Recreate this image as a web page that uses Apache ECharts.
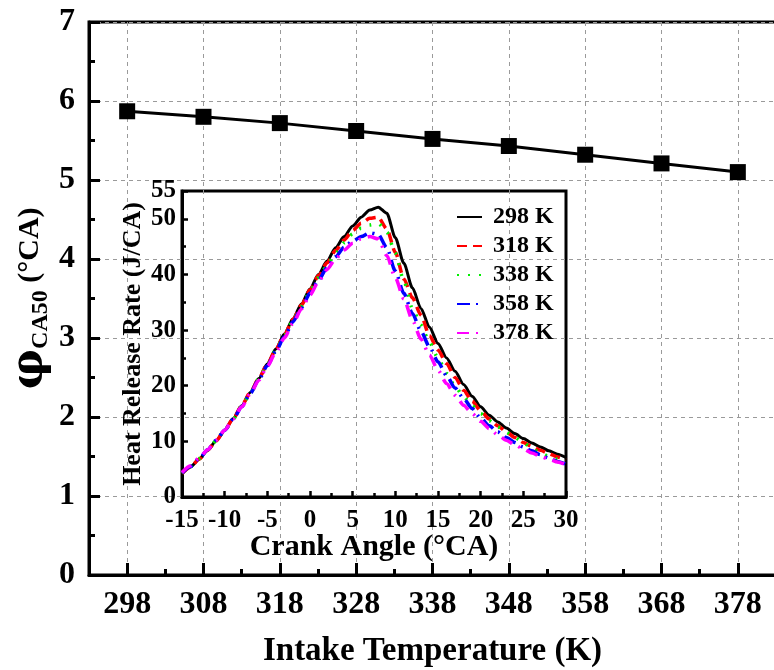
<!DOCTYPE html>
<html><head><meta charset="utf-8">
<script src="https://cdn.jsdelivr.net/npm/echarts@6/dist/echarts.min.js"></script>
<style>html,body{margin:0;padding:0;background:#fff}#c{width:774px;height:670px}</style>
</head><body><div id="c"></div>
<script>
// ---- main chart data ----
const temps = [298, 308, 318, 328, 338, 348, 358, 368, 378];
const ca50 = [5.87, 5.80, 5.72, 5.62, 5.52, 5.43, 5.32, 5.21, 5.10];
const minorTickTemps = [303, 313, 323, 333, 343, 353, 363, 373];

// ---- inset data ----
const angles = [-15,-14,-13,-12,-11,-10,-9,-8,-7,-6,-5,-4,-3,-2,-1,
  0,1,2,3,4,5,6,7,8,9,10,11,12,13,14,15,16,17,18,19,20,21,22,23,24,25,26,27,28,29,30];
const seriesNames = ['298 K', '318 K', '338 K', '358 K', '378 K'];
const hrr298 = [4.2,5.4,6.8,8.4,10.1,12.0,14.1,16.4,18.8,21.3,23.9,26.6,29.3,32.0,34.7,
  37.4,40.0,42.4,44.8,46.8,48.7,50.3,51.6,52.1,51.0,46.6,42.0,37.6,33.9,30.5,27.6,25.0,22.6,20.2,18.1,16.2,14.7,13.5,12.4,11.4,10.5,9.7,9.0,8.3,7.7,7.1];
const hrr318 = [4.2,5.4,6.8,8.4,10.1,12.0,14.1,16.4,18.8,21.3,23.9,26.5,29.2,31.9,34.5,
  37.2,39.8,42.1,44.3,46.2,47.9,49.2,50.1,50.3,48.2,44.0,39.2,35.8,32.7,29.0,26.4,24.0,21.5,19.2,17.2,15.5,14.0,12.8,11.7,10.7,9.8,9.1,8.4,7.8,7.2,6.7];
const hrr338 = [4.3,5.5,6.9,8.4,10.1,12.0,14.0,16.3,18.7,21.2,23.8,26.4,29.0,31.7,34.3,
  37.0,39.4,41.6,43.8,45.7,47.3,48.3,48.9,49.2,47.6,43.8,38.8,33.9,30.9,27.8,25.0,22.2,19.9,18.0,16.4,15.0,13.7,12.6,11.6,10.7,9.8,8.7,7.9,7.3,6.8,6.3];
const hrr358 = [4.3,5.5,6.9,8.5,10.2,12.0,14.0,16.2,18.6,21.1,23.6,26.2,28.8,31.5,34.0,
  36.6,39.0,41.2,43.2,44.9,46.0,46.8,47.5,47.2,44.8,40.6,36.6,33.0,29.8,27.0,24.3,21.8,19.6,17.7,15.9,14.2,12.8,11.7,10.7,9.8,9.0,8.3,7.6,7.0,6.4,5.9];
const hrr378 = [4.4,5.6,7.0,8.5,10.2,12.0,14.0,16.2,18.5,21.0,23.5,26.0,28.6,31.2,33.8,
  36.3,38.7,40.9,42.8,44.4,45.6,46.4,46.8,46.4,43.4,39.4,35.6,31.8,28.4,25.5,22.8,20.4,18.3,16.5,15.0,13.6,12.3,11.2,10.2,9.4,8.6,7.9,7.3,6.8,6.3,5.8];
const hrrAll = [hrr298, hrr318, hrr338, hrr358, hrr378];

const FF = "'Liberation Serif', 'Times New Roman', serif";
const styles = [
  {color: '#000000', type: 'solid', width: 3},
  {color: '#ff0000', type: [10, 6], width: 3.5},
  {color: '#00ee00', type: [2, 9], width: 3.5},
  {color: '#0000ff', type: [13, 6, 2, 6], width: 3.5},
  {color: '#ff00ff', type: [12, 7, 2, 7], width: 3.5}
];
const bold = (size) => ({fontFamily: FF, fontWeight: 'bold', fontSize: size, color: '#000'});

const chart = echarts.init(document.getElementById('c'), null, {renderer: 'canvas'});
const insetSeries = seriesNames.map((n, k) => ({
  name: n, type: 'line', xAxisIndex: 2, yAxisIndex: 1,
  data: angles.map((a, i) => [a, hrrAll[k][i]]),
  symbol: 'none', smooth: 0.25, smoothMonotone: 'x',
  lineStyle: styles[k], itemStyle: {color: styles[k].color},
  z: 3 + k
}));

chart.setOption({
  animation: false,
  backgroundColor: '#fff',
  grid: [
    {left: 89, top: 22, right: -2, bottom: 95, show: true, borderColor: '#000', borderWidth: 3,
     backgroundColor: 'transparent', outerBoundsMode: 'none', containLabel: false},
    {left: 182, top: 191, right: 208, bottom: 173, show: true, borderColor: '#000', borderWidth: 3,
     backgroundColor: 'transparent', outerBoundsMode: 'none', containLabel: false}
  ],
  legend: {
    data: seriesNames, orient: 'vertical', left: 451, top: 200,
    itemWidth: 25, itemHeight: 14, itemGap: 5,
    itemStyle: {color: 'transparent', borderColor: 'transparent', borderWidth: 0},
    textStyle: Object.assign(bold(24), {padding: [0, 0, 0, 6]}),
    inactiveColor: '#000'
  },
  xAxis: [
    {
      gridIndex: 0, type: 'value', min: 293, max: 383,
      axisLine: {show: true, onZero: false, lineStyle: {color: '#000', width: 3}},
      axisTick: {show: true, inside: true, length: 12, customValues: temps, lineStyle: {color: '#000', width: 3}},
      axisLabel: Object.assign(bold(32), {customValues: temps, margin: 14}),
      splitLine: {show: true, lineStyle: {type: [4, 4], color: '#9a9a9a', width: 1}},
      name: 'Intake Temperature (K)', nameLocation: 'middle', nameGap: 60, nameMoveOverlap: false,
      nameTextStyle: bold(33)
    },
    {
      gridIndex: 0, type: 'value', min: 293, max: 383, position: 'bottom',
      axisLine: {show: false}, axisLabel: {show: false}, splitLine: {show: false},
      axisTick: {show: true, inside: true, length: 6, customValues: minorTickTemps, lineStyle: {color: '#000', width: 3}}
    },
    {
      gridIndex: 1, type: 'value', min: -15, max: 30, interval: 5,
      axisLine: {show: true, onZero: false, lineStyle: {color: '#000', width: 3}},
      axisTick: {show: true, inside: true, length: 6, lineStyle: {color: '#000', width: 2.5}},
      minorTick: {show: true, splitNumber: 2, length: 4, lineStyle: {color: '#000', width: 2.5}},
      axisLabel: Object.assign(bold(25), {margin: 11}),
      splitLine: {show: false},
      name: 'Crank Angle (°CA)', nameLocation: 'middle', nameGap: 35, nameMoveOverlap: false,
      nameTextStyle: bold(30)
    }
  ],
  yAxis: [
    {
      gridIndex: 0, type: 'value', min: 0, max: 7, interval: 1,
      axisLine: {show: true, onZero: false, lineStyle: {color: '#000', width: 3}},
      axisTick: {show: true, inside: true, length: 11, lineStyle: {color: '#000', width: 3}},
      minorTick: {show: true, splitNumber: 2, length: 6, lineStyle: {color: '#000', width: 3}},
      axisLabel: Object.assign(bold(32), {margin: 14}),
      splitLine: {show: true, lineStyle: {type: [4, 4], color: '#9a9a9a', width: 1}},
      name: '{p|φ}{s|CA50}{n| (°CA)}', nameLocation: 'middle', nameGap: 36, nameMoveOverlap: false,
      nameTextStyle: {
        rich: {
          p: {fontFamily: "'DejaVu Serif', serif", fontWeight: 'bold', fontSize: 45, color: '#000', lineHeight: 46},
          s: {fontFamily: FF, fontWeight: 'bold', fontSize: 24, color: '#000', lineHeight: 46, verticalAlign: 'bottom'},
          n: {fontFamily: FF, fontWeight: 'bold', fontSize: 30, color: '#000', lineHeight: 46}
        }
      }
    },
    {
      gridIndex: 1, type: 'value', min: 0, max: 55, interval: 10,
      axisLine: {show: true, onZero: false, lineStyle: {color: '#000', width: 3}},
      axisTick: {show: true, inside: true, length: 6, lineStyle: {color: '#000', width: 2.5}},
      minorTick: {show: true, splitNumber: 2, length: 4, lineStyle: {color: '#000', width: 2.5}},
      axisLabel: Object.assign(bold(25), {margin: 6}),
      splitLine: {show: false},
      name: 'Heat Release Rate (J/CA)', nameLocation: 'middle', nameGap: 36, nameMoveOverlap: false,
      nameTextStyle: bold(26)
    }
  ],
  series: [
    {
      type: 'line', xAxisIndex: 0, yAxisIndex: 0,
      data: temps.map((t, i) => [t, ca50[i]]),
      symbol: 'rect', symbolSize: 16,
      lineStyle: {color: '#000', width: 3}, itemStyle: {color: '#000'}, z: 3
    }
  ].concat(insetSeries)
});
</script>
</body></html>
